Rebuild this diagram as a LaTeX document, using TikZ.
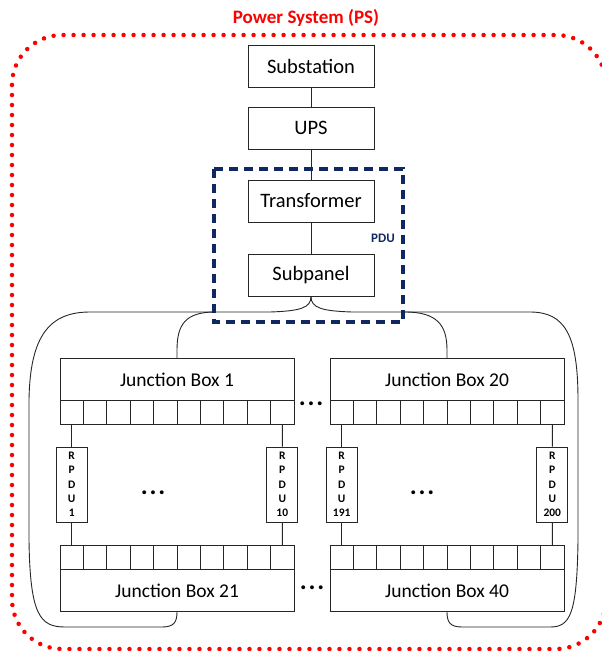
\documentclass[tikz,border=0pt]{standalone}
\usepackage{fontspec}
\setmainfont{Carlito}
\usepackage{tikz}

\definecolor{pdublue}{RGB}{16,40,96}

\tikzset{
    box/.style={draw=black!85, line width=0.9pt, minimum width=126pt, minimum height=42pt, inner sep=0pt, font=\fontsize{20.5}{24}\selectfont},
    jbox/.style={box, minimum width=234pt, minimum height=42pt, font=\fontsize{19.5}{24}\selectfont},
    cell/.style={draw=black!85, line width=0.9pt, minimum width=23.4pt, minimum height=24pt, inner sep=0pt},
    rpdu/.style={draw=black!85, line width=0.9pt, minimum width=31pt, minimum height=75pt, inner sep=0pt, align=center, font=\bfseries\fontsize{11.5}{14.3}\selectfont},
    wire/.style={draw=black!85, line width=0.9pt},
    more/.style={font=\bfseries\fontsize{26}{26}\selectfont, inner sep=0pt},
}
\newcommand{\moredots}{.\kern1.8pt.\kern1.8pt.}

\begin{document}
\begin{tikzpicture}[x=1pt, y=-1pt]
            \useasboundingbox (0,0) rectangle (602,651);

            % outer frame
            \node[font=\bfseries\fontsize{19}{19}\selectfont, text=red] (title) at (306,18) {Power System (PS)};
            \draw[red, line width=4.5pt, line cap=round, dash pattern=on 0pt off 10pt, rounded corners=50pt] (12,35) rectangle (606,649);

            % feed chain
            \node[box] (sub) at (311,66) {Substation};
            \node[box] (ups) at (311,128) {UPS};
            \node[box] (trans) at (311,201) {Transformer};
            \node[box] (subpanel) at (311,275) {Subpanel};

            \draw[wire] (sub) -- (ups);
            \draw[wire] (ups) -- (trans);
            \draw[wire] (trans) -- (subpanel);

            % junction boxes
            \node[jbox] (jb1) at (177,379.5) {Junction Box 1};
            \node[jbox] (jb20) at (447,379.5) {Junction Box 20};
            \node[jbox] (jb21) at (177,590.5) {Junction Box 21};
            \node[jbox] (jb40) at (447,590.5) {Junction Box 40};

            \foreach \i in {1,...,10} {
                \node[cell] (jb1-\i) at ({60+23.4*(\i-0.5)},412.5) {};
                \node[cell] (jb20-\i) at ({330+23.4*(\i-0.5)},412.5) {};
                \node[cell] (jb21-\i) at ({60+23.4*(\i-0.5)},557.5) {};
                \node[cell] (jb40-\i) at ({330+23.4*(\i-0.5)},557.5) {};
            }

            \node[more] (dotsa) at (311,404) {\moredots};
            \node[more] (dotsb) at (312,588) {\moredots};
            \node[more] (dotsc) at (153,493) {\moredots};
            \node[more] (dotsd) at (422,493) {\moredots};

            % rack PDUs
            \node[rpdu] (rpdu1) at (71.7,484.5) {R\\P\\D\\U\\1};
            \node[rpdu] (rpdu10) at (282.3,484.5) {R\\P\\D\\U\\10};
            \node[rpdu] (rpdu191) at (341.7,484.5) {R\\P\\D\\U\\191};
            \node[rpdu] (rpdu200) at (552.3,484.5) {R\\P\\D\\U\\200};

            \draw[wire] (jb1-1) -- (rpdu1) -- (jb21-1);
            \draw[wire] (jb1-10) -- (rpdu10) -- (jb21-10);
            \draw[wire] (jb20-1) -- (rpdu191) -- (jb40-1);
            \draw[wire] (jb20-10) -- (rpdu200) -- (jb40-10);

            % distribution bus
            \draw[wire] (subpanel.south) .. controls (311,308) and (300,311) .. (270,312) -- (90,312)
                .. controls (50,312) and (30,335) .. (29,400) -- (29,540)
                .. controls (30,615) and (40,627) .. (65,627) -- (162,627)
                .. controls (174,627) and (177,622) .. (jb21.south);
            \draw[wire] (subpanel.south) .. controls (311,308) and (322,311) .. (352,312) -- (530,312)
                .. controls (565,312) and (578,335) .. (578,400) -- (578,540)
                .. controls (577,615) and (570,627) .. (550,627) -- (462,627)
                .. controls (450,627) and (447,622) .. (jb40.south);
            \draw[wire] (215,312) .. controls (185,312) and (177,325) .. (177,350) -- (jb1.north);
            \draw[wire] (405,312) .. controls (437,312) and (447,325) .. (447,350) -- (jb20.north);

            % PDU group
            \draw[pdublue, line width=3.5pt, dash pattern=on 9pt off 6pt] (214,169) rectangle (403,322);
            \node[font=\bfseries\fontsize{13}{13}\selectfont, text=pdublue] (pdulabel) at (383,238) {PDU};
        \end{tikzpicture}
\end{document}
